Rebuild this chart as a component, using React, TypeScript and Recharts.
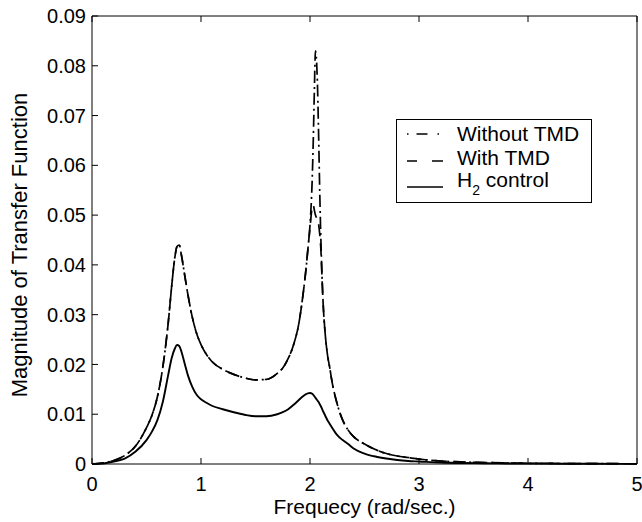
import React from 'react';
import { LineChart, Line, XAxis, YAxis } from 'recharts';

const FONT = '"Liberation Sans", Arial, Helvetica, sans-serif';

const freq = [
  0, 0.1, 0.2, 0.3, 0.4, 0.5, 0.55, 0.6, 0.65, 0.7,
  0.73, 0.76, 0.78, 0.8, 0.82, 0.85, 0.88, 0.92, 0.96, 1.0,
  1.05, 1.1, 1.2, 1.3, 1.4, 1.5, 1.6, 1.7, 1.75, 1.8,
  1.85, 1.9, 1.93, 1.96, 1.98, 2.0, 2.02, 2.03, 2.04, 2.05,
  2.06, 2.07, 2.08, 2.09, 2.1, 2.11, 2.12, 2.14, 2.16, 2.18,
  2.2, 2.25, 2.3, 2.35, 2.4, 2.5, 2.6, 2.7, 2.8, 2.9,
  3.0, 3.2, 3.4, 3.6, 3.8, 4.0, 4.3, 4.6, 5.0,
];

const withoutTMD = [
  0, 0.0002, 0.0007, 0.0017, 0.0036, 0.0073, 0.0098, 0.0135, 0.0195, 0.0285,
  0.0355, 0.0415, 0.0437, 0.044, 0.042, 0.038, 0.034, 0.0295, 0.0262, 0.024,
  0.022, 0.0206, 0.019, 0.018, 0.0173, 0.0169, 0.017, 0.0182, 0.0193, 0.0212,
  0.024, 0.0285, 0.033, 0.0385, 0.043, 0.048, 0.057, 0.065, 0.075, 0.083,
  0.081, 0.075, 0.065, 0.054, 0.045, 0.038, 0.0325, 0.026, 0.022, 0.0195,
  0.0168, 0.012, 0.0088, 0.0068, 0.0055, 0.004, 0.0029, 0.0021, 0.0016, 0.0013,
  0.001, 0.0006, 0.0004, 0.0003, 0.0002, 0.00015, 0.0001, 0.00007, 0.00005,
];

const withTMD = [
  0, 0.0002, 0.0007, 0.0017, 0.0036, 0.0073, 0.0098, 0.0135, 0.0195, 0.0285,
  0.0355, 0.0415, 0.0437, 0.044, 0.042, 0.038, 0.034, 0.0295, 0.0262, 0.024,
  0.022, 0.0206, 0.019, 0.018, 0.0173, 0.0169, 0.017, 0.0182, 0.0193, 0.0212,
  0.024, 0.0285, 0.033, 0.0385, 0.043, 0.0475, 0.0515, 0.052, 0.051, 0.05,
  0.0495, 0.049, 0.048, 0.046, 0.043, 0.0375, 0.0325, 0.026, 0.022, 0.0195,
  0.0168, 0.012, 0.0088, 0.0068, 0.0055, 0.004, 0.0029, 0.0021, 0.0016, 0.0013,
  0.001, 0.0006, 0.0004, 0.0003, 0.0002, 0.00015, 0.0001, 0.00007, 0.00005,
];

const h2Control = [
  0, 0.0001, 0.0005, 0.0011, 0.0025, 0.0048, 0.0065, 0.0088, 0.0125, 0.018,
  0.0212, 0.0232, 0.0239, 0.0237, 0.0226, 0.0202, 0.0178, 0.0155, 0.0139, 0.013,
  0.0123, 0.0117, 0.011, 0.0104, 0.0099, 0.0096, 0.0096, 0.01, 0.0104, 0.011,
  0.0119, 0.0129, 0.0135, 0.014, 0.0142, 0.01425, 0.0141, 0.0139, 0.0136, 0.0133,
  0.013, 0.0127, 0.0124, 0.012, 0.0116, 0.0111, 0.0106, 0.0097, 0.0088, 0.0081,
  0.0074, 0.0058, 0.0048, 0.004, 0.0031, 0.0021, 0.0015, 0.0011, 0.0008, 0.0006,
  0.0005, 0.0003, 0.0002, 0.00015, 0.0001, 0.00008, 0.00006, 0.00004, 0.00003,
];

const xTicks = [0, 1, 2, 3, 4, 5];
const yTicks = [0, 0.01, 0.02, 0.03, 0.04, 0.05, 0.06, 0.07, 0.08, 0.09];
const yTickLabels = ['0', '0.01', '0.02', '0.03', '0.04', '0.05', '0.06', '0.07', '0.08', '0.09'];
const seriesNames = ['Without TMD', 'With TMD', 'control'];

const data = freq.map((f, i) => ({ f, wo: withoutTMD[i], w: withTMD[i], h2: h2Control[i] }));

const DASHDOT = '12 4 2 4';
const DASHED = '12 7';

export default function App() {
  return (
    <div style={{ position: 'absolute', left: 0, top: 0, width: 642, height: 522, background: '#fff', fontFamily: FONT }}>
      <LineChart width={642} height={522} data={data} margin={{ top: 15, right: 4, left: 0, bottom: 0 }}>
        <XAxis
          xAxisId="b"
          dataKey="f"
          type="number"
          domain={[0, 5]}
          ticks={xTicks}
          interval={0}
          orientation="bottom"
          height={58}
          tickSize={-6}
          tickMargin={19}
          stroke="#000"
          tick={{ fill: '#000', fontSize: 20, fontFamily: FONT }}
          label={{ value: 'Frequecy (rad/sec.)', position: 'insideBottom', offset: 8, fill: '#000', fontSize: 21, fontFamily: FONT }}
        />
        <XAxis
          xAxisId="t"
          dataKey="f"
          type="number"
          domain={[0, 5]}
          ticks={xTicks}
          interval={0}
          orientation="top"
          height={1}
          tickSize={-6}
          tickFormatter={() => ''}
          stroke="#000"
        />
        <YAxis
          yAxisId="l"
          type="number"
          domain={[0, 0.09]}
          ticks={yTicks}
          interval={0}
          width={92}
          tickSize={-6}
          tickMargin={12}
          stroke="#000"
          tickFormatter={(v: number) => yTickLabels[Math.round(v * 100)]}
          tick={{ fill: '#000', fontSize: 20, fontFamily: FONT }}
          label={{
            content: (p: any) => {
              const vb = p.viewBox || { x: 0, y: 16, width: 92, height: 448 };
              const cx = vb.x + 27;
              const cy = vb.y + vb.height / 2 + 5;
              return (
                <text x={cx} y={cy} transform={`rotate(-90, ${cx}, ${cy})`} textAnchor="middle" fill="#000" fontSize={22} fontFamily={FONT}>
                  Magnitude of Transfer Function
                </text>
              );
            },
          }}
        />
        <YAxis
          yAxisId="r"
          orientation="right"
          type="number"
          domain={[0, 0.09]}
          ticks={yTicks}
          interval={0}
          width={1}
          tickSize={-6}
          tickFormatter={() => ''}
          stroke="#000"
        />
        <Line xAxisId="b" yAxisId="l" type="monotone" dataKey="wo" stroke="#000" strokeWidth={1.7} strokeDasharray={DASHDOT} dot={false} isAnimationActive={false} />
        <Line xAxisId="b" yAxisId="l" type="monotone" dataKey="w" stroke="#000" strokeWidth={1.7} strokeDasharray={DASHED} dot={false} isAnimationActive={false} />
        <Line xAxisId="b" yAxisId="l" type="monotone" dataKey="h2" stroke="#000" strokeWidth={1.9} dot={false} isAnimationActive={false} />
      </LineChart>
      <svg width={642} height={522} style={{ position: 'absolute', left: 0, top: 0, pointerEvents: 'none' }}>
        <rect x={396.5} y={119.5} width={195} height={83} fill="#fff" stroke="#000" strokeWidth={1} />
        <line x1={407} y1={134} x2={441} y2={134} stroke="#000" strokeWidth={1.5} strokeDasharray="1.5 8 11 10 1.5 10" />
        <text x={457} y={141} fontSize={21} fontFamily={FONT} fill="#000">{seriesNames[0]}</text>
        <line x1={407} y1={161} x2={443} y2={161} stroke="#000" strokeWidth={1.5} strokeDasharray="10 15 11 10" />
        <text x={457} y={165} fontSize={21} fontFamily={FONT} fill="#000">{seriesNames[1]}</text>
        <line x1={407} y1={187} x2={443} y2={187} stroke="#000" strokeWidth={1.7} />
        <text x={457} y={187} fontSize={21} fontFamily={FONT} fill="#000">
          H<tspan fontSize={14} dy={8}>2</tspan>
          <tspan dy={-8}> {seriesNames[2]}</tspan>
        </text>
      </svg>
    </div>
  );
}
